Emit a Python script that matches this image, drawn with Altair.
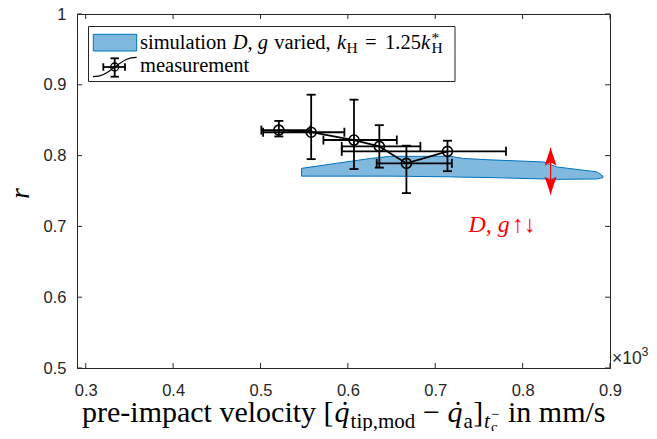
import altair as alt
import pandas as pd

# ---------------- data ----------------
meas_x   = [0.521, 0.558, 0.607, 0.636, 0.667, 0.714]
meas_y   = [0.836, 0.833, 0.822, 0.813, 0.789, 0.806]
meas_xlo = [0.501, 0.503, 0.572, 0.593, 0.633, 0.593]
meas_xhi = [0.557, 0.596, 0.656, 0.683, 0.719, 0.781]
meas_ylo = [0.827, 0.795, 0.781, 0.783, 0.747, 0.778]
meas_yhi = [0.849, 0.886, 0.879, 0.843, 0.814, 0.821]

sim_x     = [0.547, 0.626, 0.649, 0.717, 0.732, 0.763, 0.824, 0.839, 0.885, 0.892]
sim_upper = [0.782, 0.796, 0.799, 0.799, 0.796, 0.794, 0.791, 0.784, 0.777, 0.771]
sim_lower = [0.771, 0.771, 0.771, 0.770, 0.7695, 0.769, 0.767, 0.7665, 0.767, 0.769]

arrow_x  = [0.832]
arrow_lo = [0.745]
arrow_hi = [0.811]

note_x = [0.738]
note_y = [0.6925]

x_ticks = [0.3, 0.4, 0.5, 0.6, 0.7, 0.8, 0.9]
y_ticks = [0.5, 0.6, 0.7, 0.8, 0.9, 1.0]

legend_sim = "simulation"
legend_meas = "measurement"
exp_label = ["\u00d710", "3"]

# ---------------- layout ----------------
W, H = 533, 354
AX = "#262626"
SERIF = "Liberation Serif"
SANS = "Liberation Sans"
FILL = "#80B8DE"
EDGE = "#0072BD"

xscale = alt.Scale(domain=[0.29, 0.9], nice=False, zero=False)
yscale = alt.Scale(domain=[0.5, 1.0], nice=False, zero=False)

xaxis = alt.Axis(values=x_ticks, format=".1f", title=None, grid=False, ticks=False,
                 tickSize=0, labelPadding=14, labelFont=SANS, labelFontSize=16.5,
                 labelColor=AX, domainColor=AX, labelFlush=False, labelOverlap=False)
yaxis = alt.Axis(values=y_ticks, labelExpr="datum.value == 1 ? '1' : format(datum.value, '.1f')",
                 title="r", titleFont=SERIF, titleFontStyle="italic", titleFontSize=28,
                 titleFontWeight="normal", titleColor="#000000", titleAngle=270,
                 titleX=-57, titleY=179, titleAlign="center", titleBaseline="middle",
                 grid=False, ticks=False, tickSize=0, labelPadding=11, labelFont=SANS,
                 labelFontSize=16.5, labelColor=AX, domainColor=AX, labelFlush=False,
                 labelOverlap=False)


def X(f):
    return alt.X(f, type="quantitative", scale=xscale, axis=xaxis)


def Y(f):
    return alt.Y(f, type="quantitative", scale=yscale, axis=yaxis)


meas = pd.DataFrame({"x": meas_x, "y": meas_y, "xlo": meas_xlo, "xhi": meas_xhi,
                     "ylo": meas_ylo, "yhi": meas_yhi})
sim = pd.DataFrame({"x": sim_x, "up": sim_upper, "lo": sim_lower})
arr = pd.DataFrame({"x": arrow_x, "lo": arrow_lo, "hi": arrow_hi})
note = pd.DataFrame({"x": note_x, "y": note_y, "a": ["D, g"], "b": ["\u2191\u2193"]})
xt = pd.DataFrame({"v": x_ticks})
yt = pd.DataFrame({"v": y_ticks})

layers = []

# simulation band
layers.append(alt.Chart(sim).mark_area(fill=FILL, stroke=EDGE, strokeWidth=1, opacity=1)
              .encode(x=X("x"), y=Y("up"), y2="lo"))

# measurement line + error bars
LW = 1.8
layers.append(alt.Chart(meas).mark_line(color="black", strokeWidth=LW).encode(x=X("x"), y=Y("y")))
layers.append(alt.Chart(meas).mark_rule(color="black", strokeWidth=LW)
              .encode(x=X("xlo"), x2="xhi", y=Y("y")))
layers.append(alt.Chart(meas).mark_rule(color="black", strokeWidth=LW)
              .encode(x=X("x"), y=Y("ylo"), y2="yhi"))
for f in ["xlo", "xhi"]:
    layers.append(alt.Chart(meas).mark_tick(orient="vertical", color="black", size=9,
                                            thickness=LW, opacity=1)
                  .encode(x=X(f), y=Y("y")))
for f in ["ylo", "yhi"]:
    layers.append(alt.Chart(meas).mark_tick(orient="horizontal", color="black", size=9,
                                            thickness=LW, opacity=1)
                  .encode(x=X("x"), y=Y(f)))
layers.append(alt.Chart(meas).mark_point(shape="circle", size=100, filled=False,
                                         color="black", strokeWidth=1.6, opacity=1)
              .encode(x=X("x"), y=Y("y")))

# red double arrow
layers.append(alt.Chart(arr).mark_rule(color="#FF0000", strokeWidth=1.2)
              .encode(x=X("x"), y=Y("lo"), y2="hi"))
layers.append(alt.Chart(arr).mark_point(shape="M0,0 L0.6,1.8 L0,1.45 L-0.6,1.8 Z", size=400,
                                        filled=True, color="#FF0000", strokeWidth=0, opacity=1)
              .encode(x=X("x"), y=Y("hi")))
layers.append(alt.Chart(arr).mark_point(shape="M0,0 L0.6,-1.8 L0,-1.45 L-0.6,-1.8 Z", size=400,
                                        filled=True, color="#FF0000", strokeWidth=0, opacity=1)
              .encode(x=X("x"), y=Y("lo")))
layers.append(alt.Chart(note).mark_text(align="left", baseline="alphabetic", font=SERIF,
                                        fontSize=24, fontStyle="italic", color="#FF0000")
              .encode(x=X("x"), y=Y("y"), text="a:N"))
layers.append(alt.Chart(note).mark_text(align="left", baseline="alphabetic", font=SERIF,
                                        fontSize=24, dx=43.5, color="#FF0000")
              .encode(x=X("x"), y=Y("y"), text="b:N"))

# inward ticks on all four sides
layers.append(alt.Chart(xt).mark_rule(color=AX, strokeWidth=1)
              .encode(x=X("v"), y=alt.value(H), y2=alt.value(H - 5)))
layers.append(alt.Chart(xt).mark_rule(color=AX, strokeWidth=1)
              .encode(x=X("v"), y=alt.value(0), y2=alt.value(5)))
layers.append(alt.Chart(yt).mark_rule(color=AX, strokeWidth=1)
              .encode(y=Y("v"), x=alt.value(0), x2=alt.value(5)))
layers.append(alt.Chart(yt).mark_rule(color=AX, strokeWidth=1)
              .encode(y=Y("v"), x=alt.value(W), x2=alt.value(W - 5)))


def txt(s, x, y, size, style="normal", color="black", align="left", font=SERIF):
    return (alt.Chart(pd.DataFrame({"t": [s]}))
            .mark_text(align=align, baseline="alphabetic", font=font, fontSize=size,
                       fontStyle=style, color=color)
            .encode(x=alt.value(x), y=alt.value(y), text="t:N"))


one = pd.DataFrame({"k": [0]})

# legend box
layers.append(alt.Chart(one).mark_rect(fill="white", stroke=AX, strokeWidth=1)
              .encode(x=alt.value(11.5), x2=alt.value(378), y=alt.value(12.5), y2=alt.value(67.5)))
layers.append(alt.Chart(one).mark_rect(fill=FILL, stroke=EDGE, strokeWidth=1)
              .encode(x=alt.value(16.3), x2=alt.value(59.7), y=alt.value(20.3), y2=alt.value(37)))
# legend measurement icon
layers.append(alt.Chart(one).mark_point(shape="M-1,0.44 C-0.5,0.44 -0.3,0.2 0,0 C0.3,-0.2 0.5,-0.44 1,-0.44",
                                        size=1910, filled=False, color="black", strokeWidth=1.2, opacity=1)
              .encode(x=alt.value(37.85), y=alt.value(53)))
layers.append(alt.Chart(one).mark_rule(color="black", strokeWidth=LW)
              .encode(x=alt.value(26.3), x2=alt.value(48), y=alt.value(53)))
layers.append(alt.Chart(one).mark_rule(color="black", strokeWidth=LW)
              .encode(x=alt.value(37.7), y=alt.value(44.3), y2=alt.value(62.7)))
for cx in [26.3, 48]:
    layers.append(alt.Chart(one).mark_rule(color="black", strokeWidth=LW)
                  .encode(x=alt.value(cx), y=alt.value(49.3), y2=alt.value(56.7)))
for cy in [44.3, 62.7]:
    layers.append(alt.Chart(one).mark_rule(color="black", strokeWidth=LW)
                  .encode(x=alt.value(33.5), x2=alt.value(41.9), y=alt.value(cy)))
layers.append(alt.Chart(one).mark_point(shape="circle", size=64, filled=False, color="black",
                                        strokeWidth=1.3, opacity=1)
              .encode(x=alt.value(37.7), y=alt.value(53)))

# legend texts
LF, LS = 20.5, 15.5
b1, b2 = 35.3, 57.7
layers += [
    txt(legend_sim, 63, b1, LF),
    txt("D, g", 155.8, b1, LF, "italic"),
    txt("varied,", 197.3, b1, LF),
    txt("k", 259.9, b1, LF, "italic"),
    txt("H", 269.5, b1 + 3.5, LS),
    txt("=", 288, b1, LF),
    txt("1.25", 308, b1, LF),
    txt("k", 344, b1, LF, "italic"),
    txt("*", 354.5, b1 - 6.5, LS),
    txt("H", 354.5, b1 + 3.5, LS),
    txt(legend_meas, 63, b2, LF),
]

# x axis title (LaTeX-like, composed)
TB = 408
TF, SF, SSF = 30, 21, 15
layers += [
    txt("pre-impact velocity [", 5, TB, TF),
    txt("q", 257.6, TB, TF, "italic"),
    txt("\u02d9", 268, TB, TF, align="center"),
    txt("tip,mod", 273.6, TB + 6, SF),
    txt("\u2212", 346, TB, TF),
    txt("q", 370.5, TB, TF, "italic"),
    txt("\u02d9", 381, TB, TF, align="center"),
    txt("a", 386.5, TB + 6, SF),
    txt("]", 396.3, TB, TF),
    txt("t", 407, TB + 6, SF, "italic"),
    txt("c", 414, TB + 10, SSF),
    txt("\u2212", 414, TB - 3, SSF),
    txt("in mm/s", 431, TB, TF),
]

# x10^3 exponent label
layers += [
    txt(exp_label[0], 535, 350, 17.5, color=AX, font=SANS),
    txt(exp_label[1], 564.5, 342, 12.5, color=AX, font=SANS),
]

chart = (alt.layer(*layers)
         .properties(width=W, height=H,
                     padding={"left": 69, "top": 6, "right": 39, "bottom": 63},
                     autosize=alt.AutoSizeParams(type="none"))
         .configure_view(stroke=AX, strokeWidth=1))

chart.save("out.html", embed_options={"renderer": "svg", "actions": False})
